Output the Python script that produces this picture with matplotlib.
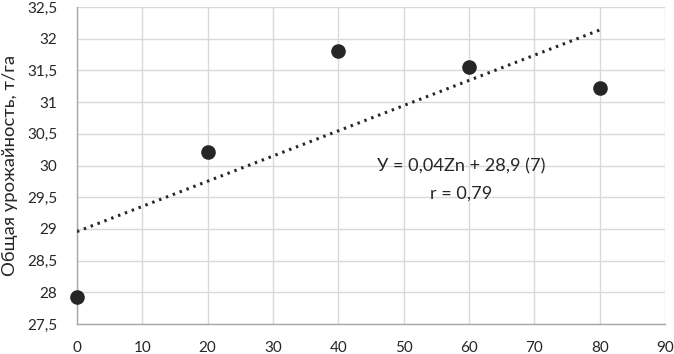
import numpy as np
import matplotlib
matplotlib.use("Agg")
import matplotlib.pyplot as plt
from matplotlib.ticker import FuncFormatter, MultipleLocator

plt.rcParams['font.family'] = ['Lato', 'DejaVu Sans']

zn_dose = [0, 20, 40, 60, 80]
yield_t = [27.93, 30.21, 31.81, 31.56, 31.23]
equation_text = "У = 0,04Zn + 28,9 (7)"
r_text = "r = 0,79"
y_label = "Общая урожайность, т/га"

W, H = 674, 354
fig = plt.figure(figsize=(6.74, 3.54), dpi=100)
ax = fig.add_axes([0.1142, 0.0847, 0.8724, 0.8953])

ax.set_xlim(0, 90)
ax.set_ylim(27.5, 32.5)
ax.xaxis.set_major_locator(MultipleLocator(10))
ax.yaxis.set_major_locator(MultipleLocator(0.5))

def comma(v, pos):
    s = ('%g' % v)
    return s.replace('.', ',')

ax.xaxis.set_major_formatter(FuncFormatter(comma))
ax.yaxis.set_major_formatter(FuncFormatter(comma))

ax.grid(True, color='#d9d9d9', linewidth=1.0)
ax.set_axisbelow(True)
for s in ['top', 'right']:
    ax.spines[s].set_visible(False)
for s in ['left', 'bottom']:
    ax.spines[s].set_color('#a6a6a6')
    ax.spines[s].set_linewidth(1.0)

ax.tick_params(length=0, labelsize=11, colors='#262626')
ax.tick_params(axis='x', pad=12)
ax.tick_params(axis='y', pad=14)

# trendline (linear fit)
k, b = np.polyfit(zn_dose, yield_t, 1)
xs = np.array([zn_dose[0], zn_dose[-1]])
ax.plot(xs, k * xs + b, linestyle=(0, (0.8, 1.6)), color='#262626', linewidth=2.2, zorder=3)

ax.plot(zn_dose, yield_t, 'o', color='#262626', markersize=9.5, zorder=4, clip_on=False)

renderer = fig.canvas.get_renderer()

def fit_size(t, target_px, horizontal=True):
    t.set_fontsize(10)
    bb = t.get_window_extent(renderer=renderer)
    cur = bb.width if horizontal else bb.height
    t.set_fontsize(10 * target_px / cur)

t1 = ax.text(58.8, 29.98, equation_text, ha='center', va='center', color='#262626')
fit_size(t1, 168)
t2 = ax.text(58.8, 29.55, r_text, ha='center', va='center', color='#262626',
             fontsize=t1.get_fontsize())

lab = fig.text(10.5 / W, 1 - 165.5 / H, y_label, rotation=90, ha='center', va='center',
               color='#262626')
fit_size(lab, 221, horizontal=False)

fig.savefig("out.png", dpi=100)
